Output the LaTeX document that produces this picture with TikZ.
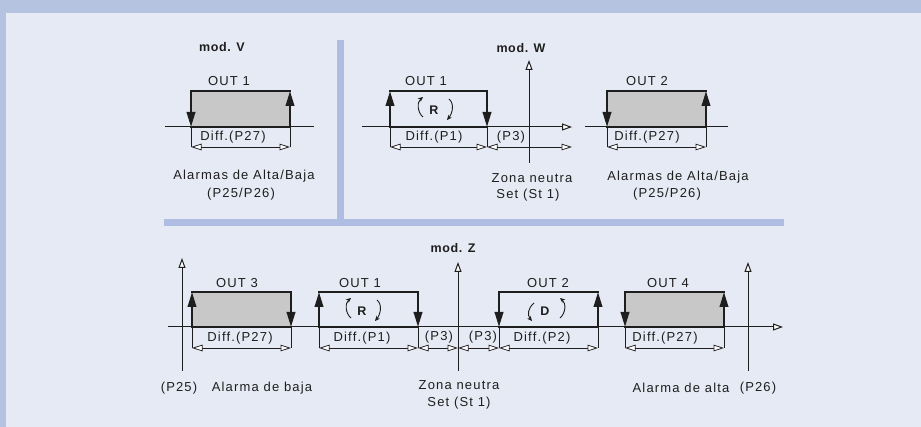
\documentclass[tikz,border=0pt]{standalone}
\usepackage{fontspec}
\setmainfont{Liberation Sans}
\newfontfamily\lab{Liberation Sans}[LetterSpace=9]
\newfontfamily\labb{Liberation Sans}[LetterSpace=5]
\usetikzlibrary{arrows.meta}
\definecolor{bandc}{HTML}{B5C3E0}
\definecolor{sepc}{HTML}{AEBDE1}
\definecolor{bgc}{HTML}{E6EAF4}
\definecolor{boxg}{HTML}{C8C8C8}
\definecolor{ink}{HTML}{1E1E1E}
\tikzset{
  txt/.style={font=\lab\fontsize{13}{15}\selectfont, text=ink, inner sep=0pt},
  ttl/.style={font=\labb\bfseries\fontsize{12.5}{14}\selectfont, text=ink, inner sep=0pt},
  rtxt/.style={font=\bfseries\fontsize{12.5}{14}\selectfont, text=ink, inner sep=0pt},
  axisline/.style={draw=ink, line width=1pt},
  axisarr/.style={draw=ink, line width=1pt, -{Triangle[length=10pt,width=7pt,fill=white]}},
  dimline/.style={draw=ink, line width=0.75pt, {Triangle[length=10.5pt,width=6.5pt,fill=white]}-{Triangle[length=10.5pt,width=6.5pt,fill=white]}},
  extline/.style={draw=ink, line width=0.75pt},
  boxline/.style={draw=ink, line width=2.2pt, line cap=rect},
  sidearr/.style={draw=ink, line width=2.2pt, -{Triangle[length=15pt,width=8.5pt]}},
  rotarr/.style={draw=ink, line width=0.9pt, -{Stealth[length=5pt,width=4.5pt]}},
}
\begin{document}
\begin{tikzpicture}[x=1pt,y=-1pt]
\useasboundingbox (0,0) rectangle (921,427);
% background
\fill[bgc] (0,0) rectangle (921,427);
\fill[bandc] (0,0) rectangle (921,13);
\fill[bandc] (0,0) rectangle (6,427);
\fill[sepc] (337,40) rectangle (344,219);
\fill[sepc] (164,219) rectangle (784,226);

% ================= mod V =================
\node[ttl] (mV) at (222,47) {mod. V};
\coordinate (vA1) at (165,127); \coordinate (vA2) at (314,127);
\coordinate (vL) at (191,127); \coordinate (vR) at (290,127);
\coordinate (vLt) at (191,91); \coordinate (vRt) at (290,91);
\coordinate (vD1) at (191,147); \coordinate (vD2) at (290,147);
\fill[boxg] (vLt) rectangle (vR);
\draw[axisline] (vA1) -- (vA2);
\draw[boxline] (vL) -- (vR);
\draw[boxline] (vLt) -- (vRt);
\draw[sidearr] (vLt) -- (vL);
\draw[sidearr] (vR) -- (vRt);
\draw[extline] (vL) -- (vD1);
\draw[extline] (vR) -- (vD2);
\draw[dimline] (vD1) -- (vD2);
\node[txt] (vout) at (229,81) {OUT 1};
\node[txt] (vdiff) at (233,137) {Diff.(P27)};
\node[txt] (valm) at (244,176) {Alarmas de Alta/Baja};
\node[txt] (vp) at (241,194) {(P25/P26)};

% ================= mod W =================
\node[ttl] (mW) at (521,48) {mod. W};
\coordinate (wA1) at (362,127); \coordinate (wA2) at (572,127);
\coordinate (wY1) at (529,163); \coordinate (wY2) at (529,60);
\coordinate (wL) at (390,127); \coordinate (wR) at (487,127);
\coordinate (wLt) at (390,91); \coordinate (wRt) at (487,91);
\coordinate (wD1) at (390,147); \coordinate (wD2) at (487,147); \coordinate (wD3) at (572,147);
\draw[axisarr] (wA1) -- (wA2);
\draw[axisarr] (wY1) -- (wY2);
\draw[boxline] (wL) -- (wR);
\draw[boxline] (wLt) -- (wRt);
\draw[sidearr] (wL) -- (wLt);
\draw[sidearr] (wRt) -- (wR);
\draw[extline] (wL) -- (wD1);
\draw[extline] (wR) -- (wD2);
\draw[dimline] (wD1) -- (wD2);
\draw[dimline] (wD2) -- (wD3);
\node[txt] (wout) at (426,81) {OUT 1};
\node[rtxt] (wr) at (434,110) {R};
\draw[rotarr] ([shift={(-11,7)}]wr.center) .. controls +(-6,-5) and +(-6,5) .. ([shift={(-11,-13)}]wr.center);
\draw[rotarr] ([shift={(15,-11)}]wr.center) .. controls +(6,5) and +(5,-6) .. ([shift={(13,10)}]wr.center);
\node[txt] (wdiff) at (434,137) {Diff.(P1)};
\node[txt] (wp3) at (511,137) {(P3)};
\node[txt] (wzn) at (532,178) {Zona neutra};
\node[txt] (wst) at (528,195) {Set (St 1)};

% OUT 2 (mod W)
\coordinate (xA1) at (585,127); \coordinate (xA2) at (728,127);
\coordinate (xL) at (607,127); \coordinate (xR) at (706,127);
\coordinate (xLt) at (607,91); \coordinate (xRt) at (706,91);
\coordinate (xD1) at (607,147); \coordinate (xD2) at (706,147);
\fill[boxg] (xLt) rectangle (xR);
\draw[axisline] (xA1) -- (xA2);
\draw[boxline] (xL) -- (xR);
\draw[boxline] (xLt) -- (xRt);
\draw[sidearr] (xLt) -- (xL);
\draw[sidearr] (xR) -- (xRt);
\draw[extline] (xL) -- (xD1);
\draw[extline] (xR) -- (xD2);
\draw[dimline] (xD1) -- (xD2);
\node[txt] (xout) at (647,81) {OUT 2};
\node[txt] (xdiff) at (647,137) {Diff.(P27)};
\node[txt] (xalm) at (678,177) {Alarmas de Alta/Baja};
\node[txt] (xp) at (667,194) {(P25/P26)};

% ================= mod Z =================
\node[ttl] (mZ) at (453,248) {mod. Z};
\coordinate (zA1) at (168,327); \coordinate (zA2) at (783,327);
\coordinate (zP25b) at (182,371); \coordinate (zP25t) at (182,258);
\coordinate (zZb) at (458,371); \coordinate (zZt) at (458,262);
\coordinate (zP26b) at (748,371); \coordinate (zP26t) at (748,262);
\draw[axisarr] (zA1) -- (zA2);
\draw[axisarr] (zP25b) -- (zP25t);
\draw[axisarr] (zZb) -- (zZt);
\draw[axisarr] (zP26b) -- (zP26t);

% OUT 3
\coordinate (aL) at (192,327); \coordinate (aR) at (291,327);
\coordinate (aLt) at (192,292); \coordinate (aRt) at (291,292);
\coordinate (aD1) at (192,348); \coordinate (aD2) at (291,348);
\fill[boxg] (aLt) rectangle (aR);
\draw[boxline] (aL) -- (aR);
\draw[boxline] (aLt) -- (aRt);
\draw[sidearr] (aL) -- (aLt);
\draw[sidearr] (aRt) -- (aR);
\draw[extline] (aL) -- (aD1);
\draw[extline] (aR) -- (aD2);
\draw[dimline] (aD1) -- (aD2);
\node[txt] (aout) at (237,283) {OUT 3};
\node[txt] (adiff) at (240,338) {Diff.(P27)};

% OUT 1
\coordinate (bL) at (319,327); \coordinate (bR) at (418,327);
\coordinate (bLt) at (319,292); \coordinate (bRt) at (418,292);
\coordinate (bD1) at (319,348); \coordinate (bD2) at (418,348);
\coordinate (zD0) at (458,348);
\draw[boxline] (bL) -- (bR);
\draw[boxline] (bLt) -- (bRt);
\draw[sidearr] (bL) -- (bLt);
\draw[sidearr] (bRt) -- (bR);
\draw[extline] (bL) -- (bD1);
\draw[extline] (bR) -- (bD2);
\draw[dimline] (bD1) -- (bD2);
\draw[dimline] (bD2) -- (zD0);
\node[txt] (bout) at (360,283) {OUT 1};
\node[rtxt] (br) at (362,311) {R};
\draw[rotarr] ([shift={(-11,7)}]br.center) .. controls +(-6,-5) and +(-6,5) .. ([shift={(-11,-13)}]br.center);
\draw[rotarr] ([shift={(15,-11)}]br.center) .. controls +(6,5) and +(5,-6) .. ([shift={(13,10)}]br.center);
\node[txt] (bdiff) at (362,338) {Diff.(P1)};
\node[txt] (bp3) at (439,337) {(P3)};

% OUT 2
\coordinate (cL) at (499,327); \coordinate (cR) at (598,327);
\coordinate (cLt) at (499,292); \coordinate (cRt) at (598,292);
\coordinate (cD1) at (499,348); \coordinate (cD2) at (598,348);
\draw[boxline] (cL) -- (cR);
\draw[boxline] (cLt) -- (cRt);
\draw[sidearr] (cLt) -- (cL);
\draw[sidearr] (cR) -- (cRt);
\draw[extline] (cL) -- (cD1);
\draw[extline] (cR) -- (cD2);
\draw[dimline] (zD0) -- (cD1);
\draw[dimline] (cD1) -- (cD2);
\node[txt] (cout) at (548,283) {OUT 2};
\node[rtxt] (cd) at (545,311) {D};
\draw[rotarr] ([shift={(-11,-8)}]cd.center) .. controls +(-6,5) and +(-5,-6) .. ([shift={(-13,10)}]cd.center);
\draw[rotarr] ([shift={(15,7)}]cd.center) .. controls +(6,-5) and +(6,5) .. ([shift={(15,-13)}]cd.center);
\node[txt] (cp3) at (483,337) {(P3)};
\node[txt] (cdiff) at (542,338) {Diff.(P2)};

% OUT 4
\coordinate (dL) at (625,327); \coordinate (dR) at (724,327);
\coordinate (dLt) at (625,292); \coordinate (dRt) at (724,292);
\coordinate (dD1) at (625,348); \coordinate (dD2) at (724,348);
\fill[boxg] (dLt) rectangle (dR);
\draw[boxline] (dL) -- (dR);
\draw[boxline] (dLt) -- (dRt);
\draw[sidearr] (dLt) -- (dL);
\draw[sidearr] (dR) -- (dRt);
\draw[extline] (dL) -- (dD1);
\draw[extline] (dR) -- (dD2);
\draw[dimline] (dD1) -- (dD2);
\node[txt] (dout) at (668,283) {OUT 4};
\node[txt] (ddiff) at (665,338) {Diff.(P27)};

% bottom labels
\node[txt] (p25) at (179,388) {(P25)};
\node[txt] (baja) at (262,388) {Alarma de baja};
\node[txt] (zzn) at (459,385) {Zona neutra};
\node[txt] (zst) at (459,403) {Set (St 1)};
\node[txt] (alta) at (681,388) {Alarma de alta};
\node[txt] (p26) at (758,388) {(P26)};
\end{tikzpicture}
\end{document}
